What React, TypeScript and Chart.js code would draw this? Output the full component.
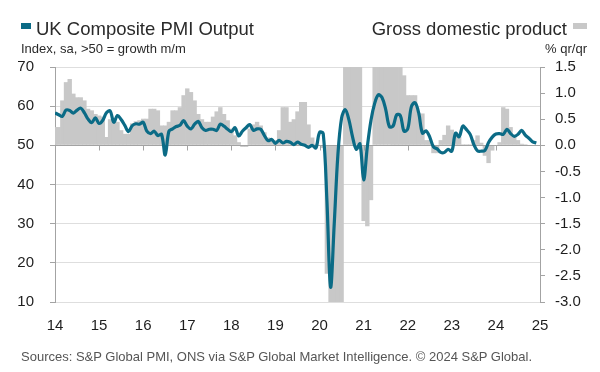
import React, { useEffect, useRef } from "react";
import { Chart, registerables } from "chart.js";

Chart.register(...registerables);

// Year tick labels (January of each year, 2014..2025)
const yearLabels = ["14", "15", "16", "17", "18", "19", "20", "21", "22", "23", "24", "25"];

// UK Composite PMI Output Index, monthly Jan 2014 .. Dec 2024
const pmiOutput = [
  58.3, 57.8, 57.4, 59.0, 58.9, 58.2, 59.0, 59.5, 58.3, 56.7, 55.8, 57.0,
  55.6, 56.4, 58.3, 58.8, 55.9, 57.6, 56.6, 55.1, 53.5, 55.0, 55.5, 55.4,
  55.9, 53.6, 53.0, 53.6, 52.5, 52.8, 47.5, 53.6, 54.2, 54.8, 55.1, 56.3,
  54.9, 54.2, 55.4, 56.1, 54.5, 53.8, 54.1, 54.1, 53.8, 55.4, 54.9, 54.1,
  53.5, 54.5, 52.4, 53.6, 54.5, 55.3, 53.8, 54.2, 54.1, 52.5, 51.2, 51.5,
  50.5, 51.3, 50.6, 51.0, 50.8, 50.2, 50.8, 50.3, 50.0, 49.5, 50.0, 49.3,
  53.3, 53.0, 36.0, 13.8, 30.0, 47.7, 57.0, 59.1, 56.5, 52.1, 49.0, 50.4,
  41.2, 49.6, 56.4, 60.7, 62.9, 62.2, 59.2, 54.8, 54.9, 57.8, 57.6, 53.6,
  54.2, 59.9, 60.9, 58.2, 53.1, 53.7, 52.1, 49.6, 49.1, 48.2, 48.2, 49.0,
  48.5, 53.1, 52.2, 54.9, 54.0, 52.8, 50.2, 48.6, 48.5, 48.7, 50.7, 52.1,
  52.9, 53.0, 52.8, 54.1, 53.0, 52.3, 52.8, 53.8, 52.6, 51.8, 50.9, 50.6,
];

// Gross domestic product, % 3m/3m, monthly Jan 2014 .. Oct 2024
const gdpQoQ = [
  0.35, 0.35, 0.86, 1.21, 1.27, 0.99, 0.92, 0.92, 0.86, 0.70, 0.67, 0.60,
  0.57, 0.55, 0.16, 0.50, 0.47, 0.45, 0.29, 0.22, 0.22, 0.42, 0.46, 0.48,
  0.51, 0.51, 0.70, 0.70, 0.67, 0.38, 0.38, 0.45, 0.67, 0.67, 0.73, 0.96,
  1.09, 1.02, 0.86, 0.60, 0.50, 0.45, 0.45, 0.55, 0.65, 0.73, 0.60, 0.48,
  0.32, 0.19, 0.06, -0.03, -0.03, 0.32, 0.40, 0.45, 0.38, 0.25, 0.15, 0.12,
  0.10, 0.29, 0.73, 0.73, 0.45, 0.50, 0.65, 0.83, 0.83, 0.40, 0.15, 0.03,
  0.00, -0.05, -2.46, -10.5, -19.0, -19.4, -8.2, 8.0, 16.0, 10.5, 4.0, 1.6,
  -1.45, -1.55, -1.05, 3.9, 4.8, 4.8, 3.6, 2.9, 1.9, 1.7, 1.6, 1.34,
  0.96, 0.96, 0.96, 0.61, 0.61, 0.10, 0.10, -0.15, -0.15, 0.10, 0.20, 0.38,
  0.30, 0.25, 0.16, 0.02, 0.02, 0.02, 0.10, 0.19, 0.05, -0.20, -0.34, -0.10,
  0.00, 0.06, 0.73, 0.70, 0.35, 0.20, 0.10, 0.03, 0.02, 0.00,
];

const FONT = "'Liberation Sans', Arial, sans-serif";
const TEAL = "#0b6b86";
const GREY_BAR = "#c8c8c8";
const AXIS = "#a3a3a3";
const GRID = "#dedede";
const TEXT = "#1e1e1e";

const axis50Plugin = {
  id: "axis50",
  afterDatasetDraw(chart: any, args: any) {
    if (args.index !== 1) return;
    const { ctx, chartArea, scales } = chart;
    const y = Math.round(scales.y.getPixelForValue(50)) + 0.5;
    ctx.save();
    ctx.strokeStyle = AXIS;
    ctx.lineWidth = 1;
    ctx.beginPath();
    ctx.moveTo(chartArea.left, y);
    ctx.lineTo(chartArea.right, y);
    yearLabels.forEach((_, k) => {
      const x = Math.round(scales.x.getPixelForValue(k * 12)) + 0.5;
      ctx.moveTo(x, y);
      ctx.lineTo(x, y + 5);
    });
    ctx.stroke();
    ctx.restore();
  },
};

export default function App() {
  const ref = useRef<HTMLCanvasElement | null>(null);

  useEffect(() => {
    document.body.style.margin = "0";
    const canvas = ref.current;
    if (!canvas) return;
    const chart = new Chart(canvas, {
      data: {
        datasets: [
          {
            type: "line",
            label: "UK Composite PMI Output",
            data: pmiOutput.map((v, i) => ({ x: i, y: v })),
            yAxisID: "y",
            borderColor: TEAL,
            borderWidth: 3.2,
            pointRadius: 0,
            tension: 0.35,
            order: 0,
          },
          {
            type: "bar",
            label: "Gross domestic product",
            data: gdpQoQ.map((v, i) => ({ x: i, y: v })),
            yAxisID: "y1",
            backgroundColor: GREY_BAR,
            borderWidth: 0,
            inflateAmount: 0,
            barThickness: 4.4,
            order: 1,
          },
        ],
      } as any,
      options: {
        responsive: false,
        animation: false,
        devicePixelRatio: 1,
        layout: { padding: { top: 67, left: 0, right: 0, bottom: 0 } },
        plugins: { legend: { display: false }, tooltip: { enabled: false } },
        scales: {
          x: {
            type: "linear",
            min: 0,
            max: 132,
            offset: false,
            afterBuildTicks: (s: any) => {
              s.ticks = yearLabels.map((_, k) => ({ value: k * 12 }));
            },
            ticks: {
              autoSkip: false,
              maxRotation: 0,
              padding: 15,
              color: TEXT,
              font: { family: FONT, size: 15 },
              callback: (_v: any, idx: number) => yearLabels[idx],
            },
            grid: { display: false, drawTicks: false, offset: false },
            border: { display: false },
            afterFit: (s: any) => {
              s.height = 70;
            },
          },
          y: {
            type: "linear",
            position: "left",
            min: 10,
            max: 70,
            ticks: {
              stepSize: 10,
              padding: 16,
              color: TEXT,
              font: { family: FONT, size: 15 },
            },
            grid: { color: GRID, tickColor: AXIS, tickLength: 5, lineWidth: 1 },
            border: { color: AXIS },
            afterFit: (s: any) => {
              s.width = 55;
            },
          },
          y1: {
            type: "linear",
            position: "right",
            min: -3,
            max: 1.5,
            ticks: {
              stepSize: 0.5,
              padding: 10,
              color: TEXT,
              font: { family: FONT, size: 15 },
              callback: (v: any) => Number(v).toFixed(1),
            },
            grid: { drawOnChartArea: false, tickColor: AXIS, tickLength: 5 },
            border: { color: AXIS },
            afterFit: (s: any) => {
              s.width = 60;
            },
          },
        },
      } as any,
      plugins: [axis50Plugin],
    });
    return () => chart.destroy();
  }, []);

  const abs = (o: any) => ({ position: "absolute" as const, whiteSpace: "nowrap" as const, ...o });

  return (
    <div
      style={{
        position: "fixed",
        left: 0,
        top: 0,
        width: 600,
        height: 372,
        background: "#fff",
        fontFamily: FONT,
        overflow: "hidden",
      }}
    >
      <canvas ref={ref} width={600} height={372} style={{ position: "absolute", left: 0, top: 0 }} />
      <div style={abs({ left: 21, top: 23, width: 10, height: 6, background: TEAL })} />
      <div style={abs({ left: 36, top: 20, fontSize: 18.5, lineHeight: "18px", color: "#2a2a2a" })}>
        UK Composite PMI Output
      </div>
      <div style={abs({ left: 21, top: 42, fontSize: 13, lineHeight: "13px", color: "#2a2a2a" })}>
        Index, sa, &gt;50 = growth m/m
      </div>
      <div style={abs({ right: 33, top: 20, fontSize: 18.5, lineHeight: "18px", color: "#2a2a2a" })}>
        Gross domestic product
      </div>
      <div style={abs({ left: 573, top: 23, width: 14, height: 6, background: GREY_BAR })} />
      <div style={abs({ right: 13, top: 42, fontSize: 13, lineHeight: "13px", color: "#2a2a2a" })}>
        % qr/qr
      </div>
      <div style={abs({ left: 21, top: 350, fontSize: 13, lineHeight: "13px", color: "#555" })}>
        Sources: S&amp;P Global PMI, ONS via S&amp;P Global Market Intelligence. © 2024 S&amp;P Global.
      </div>
    </div>
  );
}
